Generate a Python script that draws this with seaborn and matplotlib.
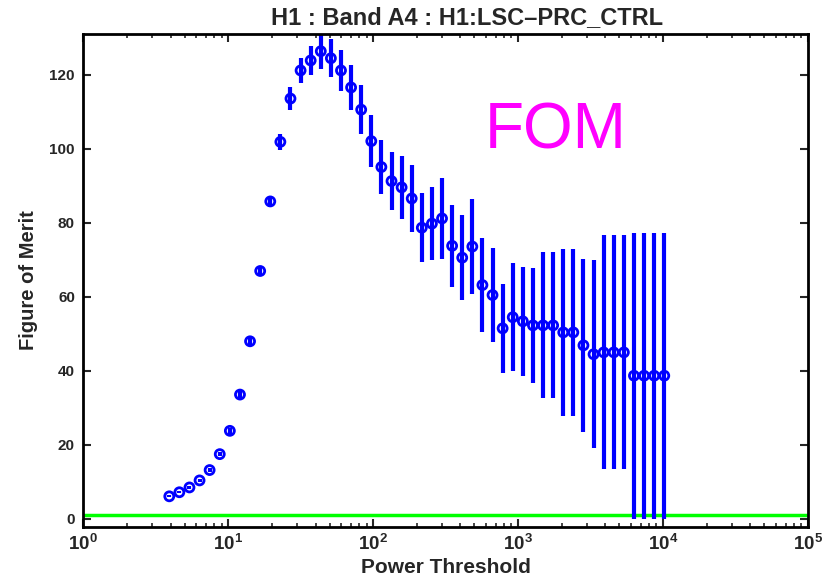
import numpy as np
import pandas as pd
import seaborn as sns
import matplotlib
matplotlib.use("Agg")
import matplotlib.pyplot as plt
from matplotlib.ticker import LogLocator, NullFormatter

# values
power_threshold = [3.92, 4.60, 5.40, 6.34, 7.44, 8.74, 10.26, 12.05, 14.14, 16.61,
                   19.50, 22.89, 26.88, 31.56, 37.05, 43.50, 51.07, 59.96, 70.40, 82.66,
                   97.05, 113.9, 133.8, 157.1, 184.4, 216.5, 254.2, 298.5, 350.4, 411.4,
                   483.1, 567.2, 665.9, 781.8, 917.9, 1078, 1265, 1486, 1744, 2048,
                   2404, 2823, 3314, 3891, 4569, 5364, 6298, 7394, 8681, 10192]
fom = [6.0, 7.1, 8.4, 10.3, 13.1, 17.4, 23.7, 33.5, 47.9, 66.9,
       85.7, 101.8, 113.5, 121.1, 123.8, 126.3, 124.4, 121.1, 116.5, 110.5,
       102.0, 95.0, 91.2, 89.5, 86.5, 78.6, 79.7, 81.1, 73.7, 70.5,
       73.5, 63.1, 60.4, 51.4, 54.4, 53.3, 52.2, 52.2, 52.2, 50.3,
       50.3, 46.8, 44.4, 44.9, 44.9, 44.9, 38.6, 38.6, 38.6, 38.6]
fom_err = [0.3, 0.3, 0.4, 0.4, 0.5, 0.6, 0.8, 1.0, 1.0, 1.2,
           1.6, 2.2, 3.0, 3.3, 4.0, 4.8, 5.2, 5.6, 6.0, 6.7,
           7.0, 7.2, 7.9, 8.6, 9.0, 9.4, 9.9, 10.9, 11.0, 11.4,
           12.9, 12.7, 12.7, 12.1, 14.6, 14.7, 15.6, 19.7, 19.7, 22.6,
           22.6, 23.3, 25.4, 31.6, 31.6, 31.6, 38.7, 38.7, 38.7, 38.7]
baseline = 1.0

df = pd.DataFrame({"threshold": power_threshold, "fom": fom, "err": fom_err})

sns.set_theme(style="ticks")
plt.rcParams["font.family"] = ["Liberation Sans", "DejaVu Sans"]
plt.rcParams["mathtext.fontset"] = "custom"
plt.rcParams["mathtext.rm"] = "Liberation Sans:bold"
plt.rcParams["mathtext.bf"] = "Liberation Sans:bold"

fig = plt.figure(figsize=(8.33, 5.83), dpi=100)
ax = fig.add_axes([0.100, 0.096, 0.870, 0.846])

# error bars first, markers on top
ax.errorbar(df["threshold"], df["fom"], yerr=df["err"], fmt="none",
            ecolor="#0000ff", elinewidth=3, capsize=0, zorder=2)
sns.scatterplot(data=df, x="threshold", y="fom", ax=ax, marker="o", s=42,
                facecolors="none", edgecolor="#0000ff", linewidth=2.0, zorder=3)

ax.axhline(baseline, color="#00ff00", lw=2.5, zorder=1)

ax.set_xscale("log")
ax.set_xlim(1, 1e5)
ax.set_ylim(-2.3, 131)
ax.set_yticks([0, 20, 40, 60, 80, 100, 120])
ax.set_xticks([1, 10, 100, 1000, 1e4, 1e5])
ax.set_xticklabels([r"$\mathbf{10^{%d}}$" % k for k in range(6)])
ax.xaxis.set_minor_locator(LogLocator(base=10, subs=np.arange(2, 10), numticks=20))
ax.xaxis.set_minor_formatter(NullFormatter())

ax.tick_params(axis="both", which="major", direction="in", length=6, width=1.5,
               top=True, right=True, labelsize=11, pad=6)
ax.tick_params(axis="x", which="major", labelsize=13.5, pad=5)
ax.tick_params(axis="x", which="minor", direction="in", length=3, width=1.2,
               top=True, bottom=True)
for lab in ax.get_yticklabels():
    lab.set_fontweight("bold")
for s in ax.spines.values():
    s.set_linewidth(2)
    s.set_color("black")

ax.set_xlabel("Power Threshold", fontsize=15, fontweight="bold", labelpad=3)
ax.set_ylabel("Figure of Merit", fontsize=14.5, fontweight="bold", labelpad=8)
ax.set_title("H1 : Band A4 : H1:LSC\u2013PRC_CTRL", fontsize=17, fontweight="bold",
             pad=7, x=0.53)

ax.text(590, 100, "FOM", color="#ff00ff", fontsize=46, ha="left", va="baseline")

fig.savefig("out.png", dpi=100, facecolor="white")
